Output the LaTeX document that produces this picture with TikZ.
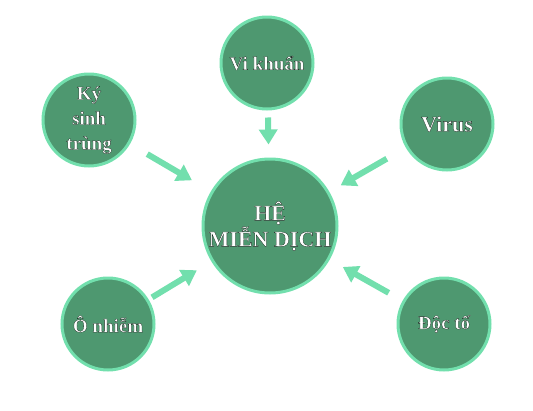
\documentclass[tikz,border=0pt]{standalone}
\usepackage{fontspec}
\setmainfont{Liberation Serif}
\usepackage{xcolor}
\usetikzlibrary{arrows.meta}
\definecolor{leaf}{HTML}{4E9870}
\definecolor{mint}{HTML}{72DFAD}
% white letters with a dark rim
\newcommand{\lbl}[1]{\special{pdf:literal direct 2 Tr 0.3 w 0.1 0.17 0.13 RG}#1\special{pdf:literal direct 0 Tr}}

\begin{document}
\begin{tikzpicture}[x=1pt,y=-1pt,
		bubble/.style={circle, fill=leaf, draw=mint, line width=3pt, text=white, minimum size=92pt, inner sep=0pt, align=center, font=\fontsize{19}{25}\selectfont\bfseries},
		core/.style={bubble, minimum size=134pt, font=\fontsize{22}{26}\selectfont\bfseries},
		feed/.style={draw=mint, line width=6pt, -{Triangle[length=15pt,width=18pt]}}]
		\useasboundingbox (0,0) rectangle (533,410);
		\node[core] (he) at (270,226) {\lbl{HỆ}\\\lbl{MIỄN DỊCH}};
		\node[bubble] (khuan) at (267,63) {\lbl{Vi khuẩn}};
		\node[bubble] (ky) at (89,120) {\lbl{Ký}\\\lbl{sinh}\\\lbl{trùng}};
		\node[bubble, font=\fontsize{22}{25}\selectfont\bfseries] (virus) at (447,124) {\lbl{Virus}};
		\node[bubble] (nhiem) at (108,324) {\lbl{Ô nhiễm}};
		\node[bubble] (docto) at (444,324) {\lbl{Độc tố}};
		% arrows into the centre
		\draw[feed, shorten <=7pt, shorten >=13pt] (khuan) -- (he);
		\draw[feed, shorten <=20pt, shorten >=22pt] (ky) -- (he);
		\draw[feed, shorten <=22pt, shorten >=13pt] (virus) -- (he);
		\draw[feed, shorten <=4pt, shorten >=17pt] (nhiem) -- (he);
		\draw[feed, shorten <=16pt, shorten >=15pt] (docto) -- (he);
\end{tikzpicture}
\end{document}
